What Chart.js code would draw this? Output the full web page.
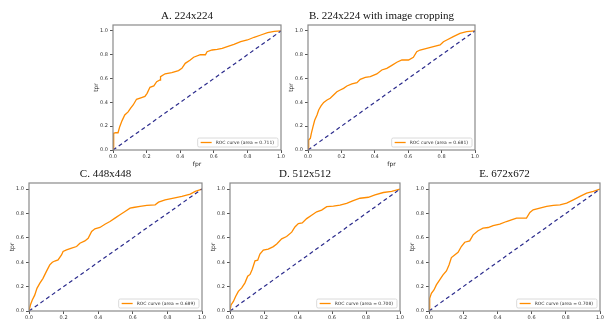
<!DOCTYPE html>
<html>
<head>
<meta charset="utf-8">
<script src="https://cdn.jsdelivr.net/npm/chart.js@4.4.0/dist/chart.umd.min.js"></script>
<style>
  html, body { margin: 0; padding: 0; background: #fff; overflow: hidden; width: 605px; height: 320px; }
  canvas { position: absolute; }
</style>
</head>
<body>
<canvas id="cA"></canvas>
<canvas id="cB"></canvas>
<canvas id="cC"></canvas>
<canvas id="cD"></canvas>
<canvas id="cE"></canvas>
<script>
// Panel titles and AUC values
const titles = ["A. 224x224", "B. 224x224 with image cropping", "C. 448x448", "D. 512x512", "E. 672x672"];
const aucs = ["0.711", "0.681", "0.689", "0.700", "0.708"];

// ROC curves (fpr, tpr)
const fprA = [0, 0.004, 0.016, 0.03, 0.04, 0.054, 0.07, 0.09, 0.104, 0.12, 0.14, 0.17, 0.19, 0.203, 0.22, 0.243, 0.26, 0.28, 0.283, 0.31, 0.35, 0.39, 0.41, 0.43, 0.46, 0.48, 0.52, 0.55, 0.56, 0.59, 0.62, 0.65, 0.68, 0.72, 0.76, 0.8, 0.84, 0.88, 0.92, 0.96, 1];
const tprA = [0, 0.14, 0.145, 0.145, 0.196, 0.247, 0.294, 0.32, 0.35, 0.378, 0.426, 0.44, 0.45, 0.476, 0.527, 0.538, 0.574, 0.588, 0.616, 0.64, 0.65, 0.667, 0.686, 0.728, 0.756, 0.779, 0.8, 0.8, 0.826, 0.84, 0.846, 0.854, 0.868, 0.888, 0.91, 0.924, 0.947, 0.966, 0.986, 0.997, 1];

const fprB = [0, 0.004, 0.014, 0.02, 0.03, 0.04, 0.054, 0.064, 0.078, 0.094, 0.114, 0.133, 0.153, 0.173, 0.193, 0.213, 0.233, 0.263, 0.293, 0.313, 0.343, 0.373, 0.412, 0.442, 0.472, 0.502, 0.532, 0.562, 0.602, 0.631, 0.651, 0.671, 0.711, 0.751, 0.791, 0.811, 0.831, 0.87, 0.91, 0.95, 1];
const tprB = [0, 0.084, 0.098, 0.14, 0.196, 0.25, 0.294, 0.336, 0.37, 0.4, 0.42, 0.434, 0.462, 0.49, 0.504, 0.518, 0.538, 0.555, 0.566, 0.594, 0.61, 0.616, 0.639, 0.672, 0.686, 0.711, 0.737, 0.756, 0.756, 0.779, 0.826, 0.84, 0.854, 0.868, 0.882, 0.91, 0.924, 0.952, 0.98, 0.994, 1];

const fprC = [0, 0.008, 0.019, 0.033, 0.046, 0.062, 0.081, 0.1, 0.12, 0.135, 0.149, 0.168, 0.188, 0.197, 0.217, 0.246, 0.275, 0.294, 0.323, 0.342, 0.362, 0.381, 0.41, 0.439, 0.468, 0.497, 0.526, 0.555, 0.584, 0.603, 0.642, 0.681, 0.729, 0.749, 0.787, 0.836, 0.884, 0.932, 0.961, 1];
const tprC = [0, 0.049, 0.09, 0.13, 0.186, 0.227, 0.268, 0.323, 0.378, 0.4, 0.41, 0.419, 0.46, 0.488, 0.501, 0.515, 0.529, 0.556, 0.575, 0.597, 0.652, 0.674, 0.685, 0.712, 0.734, 0.762, 0.789, 0.816, 0.844, 0.849, 0.858, 0.866, 0.871, 0.893, 0.912, 0.926, 0.94, 0.959, 0.981, 1];

const fprD = [0, 0.006, 0.02, 0.033, 0.049, 0.069, 0.088, 0.104, 0.118, 0.131, 0.147, 0.163, 0.176, 0.196, 0.225, 0.255, 0.275, 0.304, 0.333, 0.363, 0.382, 0.402, 0.425, 0.451, 0.48, 0.51, 0.539, 0.569, 0.608, 0.647, 0.686, 0.725, 0.765, 0.814, 0.853, 0.902, 0.951, 1];
const tprD = [0, 0.05, 0.078, 0.119, 0.161, 0.189, 0.231, 0.286, 0.3, 0.342, 0.411, 0.417, 0.467, 0.5, 0.508, 0.528, 0.55, 0.592, 0.611, 0.647, 0.689, 0.717, 0.722, 0.758, 0.786, 0.814, 0.828, 0.856, 0.861, 0.869, 0.883, 0.906, 0.925, 0.933, 0.953, 0.972, 0.981, 1];

const fprE = [0, 0.004, 0.014, 0.029, 0.043, 0.0625, 0.082, 0.102, 0.117, 0.131, 0.15, 0.17, 0.189, 0.209, 0.238, 0.258, 0.287, 0.316, 0.346, 0.375, 0.414, 0.453, 0.482, 0.512, 0.57, 0.59, 0.609, 0.648, 0.688, 0.727, 0.766, 0.805, 0.844, 0.883, 0.922, 0.961, 1];
const tprE = [0, 0.104, 0.145, 0.173, 0.214, 0.255, 0.296, 0.329, 0.378, 0.438, 0.46, 0.482, 0.529, 0.564, 0.575, 0.625, 0.658, 0.679, 0.685, 0.701, 0.712, 0.734, 0.748, 0.762, 0.762, 0.808, 0.83, 0.844, 0.858, 0.866, 0.871, 0.885, 0.912, 0.94, 0.967, 0.981, 1];

// chance line and ticks
const diagX = [0, 1];
const diagY = [0, 1];
const xTicks = [0, 0.2, 0.4, 0.6, 0.8, 1.0];
const yTicks = [0, 0.2, 0.4, 0.6, 0.8, 1.0];

const curves = [[fprA, tprA], [fprB, tprB], [fprC, tprC], [fprD, tprD], [fprE, tprE]];

// plot-area boxes on the page
const boxes = [
  { id: "cA", L: 113, R: 281, T: 25, B: 150, xTitle: true },
  { id: "cB", L: 308, R: 475, T: 25, B: 150, xTitle: true },
  { id: "cC", L: 29, R: 202, T: 183, B: 311, xTitle: true },
  { id: "cD", L: 230, R: 400, T: 183, B: 311, xTitle: true },
  { id: "cE", L: 429, R: 600, T: 183, B: 311, xTitle: true },
];

const YW = 20; // y axis width
const XH = 18; // x axis height
const TH = 14; // title block
const PR = 5;  // right padding

// frame + legend inside plot
const framePlugin = {
  id: "frameLegend",
  afterDraw(chart) {
    const ctx = chart.ctx;
    const a = chart.chartArea;
    ctx.save();
    ctx.strokeStyle = "#8a8a8a";
    ctx.lineWidth = 1.2;
    ctx.strokeRect(a.left, a.top, a.right - a.left, a.bottom - a.top);

    const ds = chart.data.datasets.find(d => d.label);
    ctx.font = '4.5px "DejaVu Sans"';
    const tw = ctx.measureText(ds.label).width;
    const h = 9;
    const w = 18 + tw + 4;
    const x = a.right - 3 - w;
    const y = a.bottom - 3 - h;
    ctx.beginPath();
    ctx.roundRect(x, y, w, h, 1.5);
    ctx.fillStyle = "rgba(255,255,255,0.85)";
    ctx.fill();
    ctx.strokeStyle = "#d0d0d0";
    ctx.lineWidth = 0.8;
    ctx.stroke();
    ctx.beginPath();
    ctx.moveTo(x + 3, y + h / 2);
    ctx.lineTo(x + 14, y + h / 2);
    ctx.strokeStyle = "#ff8c00";
    ctx.lineWidth = 1.3;
    ctx.stroke();
    ctx.fillStyle = "#333";
    ctx.textBaseline = "middle";
    ctx.fillText(ds.label, x + 18, y + h / 2 + 0.3);
    ctx.restore();
  },
};

boxes.forEach((b, i) => {
  const canvas = document.getElementById(b.id);
  const w = (b.R - b.L) + YW + PR;
  const h = TH + (b.B - b.T) + XH;
  canvas.width = w;
  canvas.height = h;
  canvas.style.left = (b.L - YW) + "px";
  canvas.style.top = (b.T - TH) + "px";

  const [fpr, tpr] = curves[i];

  new Chart(canvas.getContext("2d"), {
    type: "line",
    data: {
      datasets: [
        {
          label: `ROC curve (area = ${aucs[i]})`,
          data: fpr.map((x, k) => ({ x: x, y: tpr[k] })),
          borderColor: "#ff8c00",
          borderWidth: 1.3,
          pointRadius: 0,
          tension: 0,
          order: 1,
        },
        {
          label: "",
          data: diagX.map((x, k) => ({ x: x, y: diagY[k] })),
          borderColor: "#2b2b8c",
          borderWidth: 1.2,
          borderDash: [4, 3],
          pointRadius: 0,
          order: 0,
        },
      ],
    },
    options: {
      responsive: false,
      animation: false,
      events: [],
      layout: { padding: { left: 0, right: PR, top: 0, bottom: 0 } },
      plugins: {
        legend: { display: false },
        tooltip: { enabled: false },
        title: {
          display: true,
          text: titles[i],
          color: "#111",
          font: { family: "Liberation Serif", size: 11, weight: "normal", lineHeight: 1 },
          padding: { top: 0, bottom: 3 },
        },
      },
      scales: {
        x: {
          type: "linear",
          min: 0,
          max: 1,
          afterBuildTicks: s => { s.ticks = xTicks.map(v => ({ value: v })); },
          afterFit: s => { s.height = XH; },
          ticks: { font: { family: "DejaVu Sans", size: 5 }, color: "#333", padding: 1, maxRotation: 0, callback: v => v.toFixed(1) },
          grid: { drawOnChartArea: false, tickLength: 3, color: "#555" },
          border: { display: false },
          title: { display: b.xTitle, text: "fpr", font: { family: "DejaVu Sans", size: 6 }, color: "#222", padding: 0 },
        },
        y: {
          type: "linear",
          min: 0,
          max: 1.05,
          afterBuildTicks: s => { s.ticks = yTicks.map(v => ({ value: v })); },
          afterFit: s => { s.width = YW; },
          ticks: { font: { family: "DejaVu Sans", size: 5 }, color: "#333", padding: 2, callback: v => v.toFixed(1) },
          grid: { drawOnChartArea: false, tickLength: 3, color: "#555" },
          border: { display: false },
          title: { display: true, text: "tpr", font: { family: "DejaVu Sans", size: 6 }, color: "#222", padding: 0 },
        },
      },
    },
    plugins: [framePlugin],
  });
});
</script>
</body>
</html>
